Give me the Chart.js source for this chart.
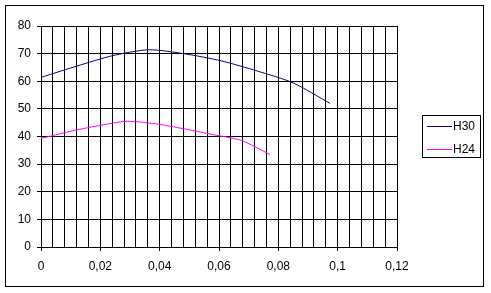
<!DOCTYPE html>
<html>
<head>
<meta charset="utf-8">
<script src="https://cdn.jsdelivr.net/npm/chart.js@4/dist/chart.umd.min.js"></script>
<style>
  html, body { margin: 0; padding: 0; background: #fff; }
  canvas { display: block; }
</style>
</head>
<body>
<canvas id="chart" width="491" height="293"></canvas>
<script>
// series data
const seriesNames = ['H30', 'H24'];
const seriesColors = ['#000080', '#ff00ff'];
const h30X = [0, 0.0121, 0.0243, 0.0364, 0.0486, 0.0607, 0.0729, 0.085, 0.0974];
const h30Y = [61.4, 65.5, 69.3, 71.4, 69.9, 67.4, 63.7, 59.4, 52.0];
const h24X = [0, 0.0096, 0.0193, 0.029, 0.0386, 0.0482, 0.0579, 0.0675, 0.0772];
const h24Y = [39.3, 41.8, 43.9, 45.5, 44.6, 42.8, 40.7, 38.6, 33.5];

// axis setup
const xMin = 0, xMax = 0.12, xGridStep = 0.004, xLabelStep = 0.02;
const yMin = 0, yMax = 80, yStep = 10;

const FONT = { family: '"Liberation Sans", Arial, sans-serif', size: 12 };

function toPoints(xs, ys) {
  return xs.map((x, i) => ({ x, y: ys[i] }));
}

function isLabelTick(v) {
  const k = Math.round(v / xGridStep);
  return k % Math.round(xLabelStep / xGridStep) === 0;
}

// outer frame + legend box, drawn like the spreadsheet chart
const framePlugin = {
  id: 'frame',
  afterDraw(chart) {
    const ctx = chart.ctx;
    ctx.save();
    ctx.strokeStyle = '#000';
    ctx.lineWidth = 1;
    ctx.strokeRect(5.5, 5.5, 478, 281);

    // legend
    ctx.strokeRect(422.5, 115.5, 58, 42);
    ctx.font = FONT.size + 'px ' + FONT.family;
    ctx.textBaseline = 'middle';
    ctx.textAlign = 'left';
    chart.data.datasets.forEach((ds, i) => {
      const y = 126.5 + i * 23;
      ctx.strokeStyle = ds.borderColor;
      ctx.beginPath();
      ctx.moveTo(427, y);
      ctx.lineTo(452, y);
      ctx.stroke();
      ctx.fillStyle = '#000';
      ctx.fillText(ds.label, 453, y);
    });
    ctx.restore();
  }
};

new Chart(document.getElementById('chart'), {
  type: 'scatter',
  data: {
    datasets: [
      {
        label: seriesNames[0],
        data: toPoints(h30X, h30Y),
        borderColor: seriesColors[0],
        showLine: true,
        borderWidth: 1,
        pointRadius: 0,
        tension: 0.25
      },
      {
        label: seriesNames[1],
        data: toPoints(h24X, h24Y),
        borderColor: seriesColors[1],
        showLine: true,
        borderWidth: 1,
        pointRadius: 0,
        tension: 0.25
      }
    ]
  },
  options: {
    responsive: false,
    animation: false,
    devicePixelRatio: 1,
    layout: { padding: { left: 0, top: 26, right: 94, bottom: 0 } },
    plugins: {
      legend: { display: false },
      tooltip: { enabled: false }
    },
    scales: {
      x: {
        type: 'linear',
        min: xMin,
        max: xMax,
        afterFit: s => { s.height = 46; },
        border: { display: true, color: '#000' },
        grid: {
          color: '#000',
          tickLength: 4,
          tickColor: c => (c.tick && isLabelTick(c.tick.value)) ? '#000' : 'rgba(0,0,0,0)'
        },
        ticks: {
          stepSize: xGridStep,
          autoSkip: false,
          maxRotation: 0,
          padding: 8,
          color: '#000',
          font: FONT,
          callback: v => isLabelTick(v) ? String(Number(v.toFixed(3))).replace('.', ',') : ''
        }
      },
      y: {
        min: yMin,
        max: yMax,
        afterFit: s => { s.width = 41; },
        border: { display: true, color: '#000' },
        grid: { color: '#000', tickLength: 4, tickColor: '#000' },
        ticks: {
          stepSize: yStep,
          padding: 6,
          color: '#000',
          font: FONT
        }
      }
    }
  },
  plugins: [framePlugin]
});
</script>
</body>
</html>
